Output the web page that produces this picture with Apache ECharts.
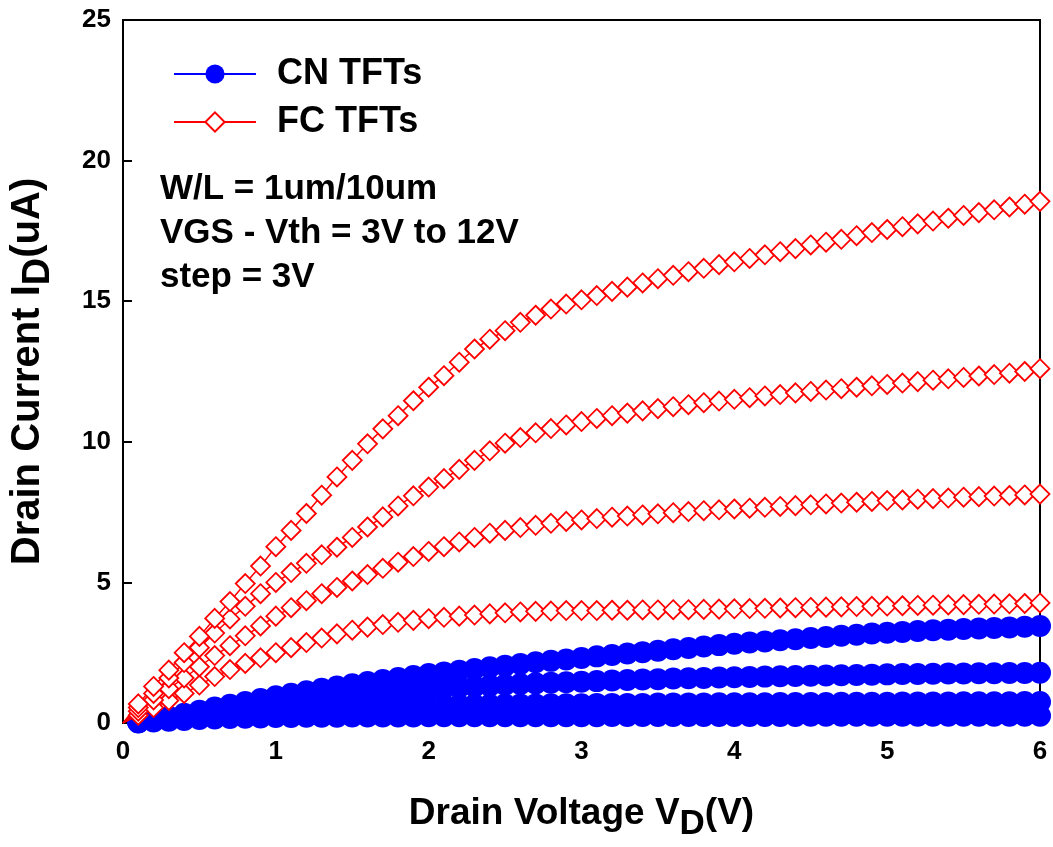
<!DOCTYPE html>
<html>
<head>
<meta charset="utf-8">
<script src="https://cdn.jsdelivr.net/npm/echarts@6/dist/echarts.min.js"></script>
<style>
html,body{margin:0;padding:0;background:#fff;}
#chart{width:1053px;height:847px;}
</style>
</head>
<body>
<div id="chart"></div>
<script>
// Drain voltage (V), 0 to 6 step 0.1
const vd = [0,0.1,0.2,0.3,0.4,0.5,0.6,0.7,0.8,0.9,1.0,1.1,1.2,1.3,1.4,1.5,1.6,1.7,1.8,1.9,2.0,2.1,2.2,2.3,2.4,2.5,2.6,2.7,2.8,2.9,3.0,3.1,3.2,3.3,3.4,3.5,3.6,3.7,3.8,3.9,4.0,4.1,4.2,4.3,4.4,4.5,4.6,4.7,4.8,4.9,5.0,5.1,5.2,5.3,5.4,5.5,5.6,5.7,5.8,5.9,6.0];

// FC TFTs (uA), starting at VD = 0
const fc12 = [0,0.68,1.3,1.88,2.5,3.08,3.72,4.32,4.96,5.58,6.27,6.85,7.45,8.1,8.75,9.34,9.93,10.46,10.93,11.46,11.94,12.35,12.83,13.3,13.65,13.95,14.25,14.5,14.72,14.9,15.05,15.2,15.35,15.5,15.65,15.8,15.92,16.05,16.17,16.3,16.4,16.52,16.65,16.76,16.87,17.0,17.1,17.2,17.33,17.44,17.55,17.65,17.75,17.85,17.95,18.05,18.15,18.25,18.35,18.45,18.55];
const fc9 = [0,0.55,1.05,1.6,2.15,2.68,3.2,3.7,4.15,4.6,5.0,5.35,5.68,5.98,6.25,6.6,6.97,7.33,7.72,8.08,8.39,8.69,9.02,9.34,9.68,9.95,10.15,10.32,10.47,10.6,10.72,10.83,10.93,11.02,11.1,11.18,11.25,11.32,11.39,11.45,11.51,11.57,11.63,11.68,11.74,11.79,11.84,11.89,11.94,11.99,12.04,12.09,12.14,12.19,12.24,12.29,12.34,12.39,12.44,12.5,12.6];
const fc6 = [0,0.42,0.82,1.22,1.6,2.0,2.4,2.75,3.1,3.45,3.8,4.1,4.35,4.6,4.82,5.05,5.28,5.5,5.72,5.92,6.1,6.27,6.44,6.6,6.75,6.85,6.95,7.03,7.1,7.17,7.22,7.27,7.32,7.36,7.4,7.44,7.48,7.52,7.55,7.58,7.61,7.64,7.67,7.7,7.73,7.76,7.79,7.82,7.85,7.88,7.91,7.93,7.96,7.98,8.0,8.03,8.05,8.07,8.09,8.11,8.14];
const fc3 = [0,0.28,0.55,0.8,1.05,1.35,1.65,1.9,2.12,2.32,2.5,2.68,2.86,3.02,3.17,3.3,3.41,3.5,3.58,3.65,3.71,3.76,3.8,3.84,3.88,3.92,3.95,3.97,3.98,4.0,4.0,4.0,4.01,4.01,4.02,4.02,4.03,4.03,4.04,4.05,4.06,4.07,4.08,4.09,4.1,4.11,4.12,4.13,4.14,4.15,4.16,4.17,4.18,4.19,4.2,4.21,4.22,4.23,4.24,4.25,4.27];

// CN TFTs (uA), starting at VD = 0.1
const cn12 = [0.04,0.12,0.22,0.33,0.44,0.55,0.65,0.75,0.85,0.95,1.04,1.13,1.22,1.3,1.38,1.46,1.53,1.6,1.67,1.74,1.8,1.86,1.92,1.98,2.04,2.1,2.16,2.21,2.26,2.31,2.37,2.42,2.47,2.52,2.57,2.62,2.67,2.72,2.77,2.82,2.86,2.9,2.94,2.98,3.02,3.06,3.1,3.14,3.18,3.21,3.24,3.27,3.3,3.32,3.34,3.36,3.38,3.4,3.42,3.45];
const cn9 = [0.04,0.1,0.18,0.26,0.34,0.42,0.5,0.57,0.64,0.7,0.76,0.82,0.88,0.93,0.98,1.03,1.07,1.11,1.15,1.19,1.23,1.27,1.3,1.33,1.36,1.39,1.41,1.43,1.45,1.47,1.49,1.51,1.53,1.55,1.56,1.58,1.59,1.6,1.62,1.63,1.64,1.65,1.66,1.67,1.68,1.69,1.7,1.71,1.72,1.73,1.74,1.74,1.75,1.76,1.76,1.77,1.77,1.78,1.78,1.79];
const cn6 = [0.03,0.08,0.14,0.2,0.26,0.31,0.36,0.41,0.45,0.48,0.51,0.54,0.56,0.58,0.59,0.6,0.61,0.62,0.63,0.64,0.64,0.65,0.65,0.65,0.66,0.66,0.66,0.67,0.67,0.67,0.68,0.68,0.68,0.68,0.69,0.69,0.69,0.69,0.7,0.7,0.7,0.7,0.71,0.71,0.71,0.71,0.72,0.72,0.72,0.72,0.73,0.73,0.73,0.73,0.74,0.74,0.74,0.74,0.75,0.75];
const cn3 = [0.02,0.05,0.08,0.11,0.14,0.16,0.18,0.19,0.2,0.21,0.21,0.22,0.22,0.22,0.23,0.23,0.23,0.23,0.23,0.24,0.24,0.24,0.24,0.24,0.24,0.24,0.24,0.24,0.24,0.24,0.24,0.25,0.25,0.25,0.25,0.25,0.25,0.25,0.25,0.25,0.25,0.25,0.25,0.25,0.26,0.26,0.26,0.26,0.26,0.26,0.26,0.26,0.26,0.26,0.26,0.26,0.26,0.26,0.26,0.26];

const legendNames = ['CN TFTs', 'FC TFTs'];
const noteLines = ['W/L = 1um/10um', 'VGS - Vth = 3V to 12V', 'step = 3V'];
const xTicks = [0, 1, 2, 3, 4, 5, 6];
const yTicks = [0, 5, 10, 15, 20, 25];

const FONT = '"Liberation Sans", Arial, Helvetica, sans-serif';
const BLUE = '#0000ff';
const RED = '#ff0000';

function fcData(arr) {
  return arr.map((v, i) => i === 0 ? { value: [vd[i], v], symbol: 'none' } : [vd[i], v]);
}
function cnData(arr) {
  return arr.map((v, i) => [vd[i + 1], v]);
}
function cnSeries(arr) {
  return {
    name: legendNames[0], type: 'line', data: cnData(arr),
    symbol: 'circle', symbolSize: 22, z: 2,
    itemStyle: { color: BLUE },
    lineStyle: { color: BLUE, width: 1.5 },
    emphasis: { disabled: true }, animation: false
  };
}
function fcSeries(arr) {
  return {
    name: legendNames[1], type: 'line', data: fcData(arr),
    symbol: 'diamond', symbolSize: 19, z: 3,
    itemStyle: { color: '#ffffff', borderColor: RED, borderWidth: 1.8 },
    lineStyle: { color: RED, width: 1.5 },
    emphasis: { disabled: true }, animation: false
  };
}

function titleStyle(size) {
  return {
    fontFamily: FONT, fontWeight: 'bold', fontSize: size, color: '#000',
    rich: {
      sub: { fontFamily: FONT, fontWeight: 'bold', fontSize: size - 2, color: '#000', padding: [22, 0, 0, 0] }
    }
  };
}

const chart = echarts.init(document.getElementById('chart'), null, { renderer: 'canvas' });
chart.setOption({
  backgroundColor: '#ffffff',
  animation: false,
  grid: { left: 123, right: 13, top: 20, bottom: 120, show: true, borderColor: '#000', borderWidth: 2, backgroundColor: 'transparent' },
  legend: {
    data: legendNames, orient: 'vertical', left: 168, top: 51,
    itemWidth: 82, itemHeight: 24, itemGap: 12,
    textStyle: { fontFamily: FONT, fontWeight: 'bold', fontSize: 36, color: '#000', lineHeight: 36, padding: [0, 0, 0, 16] }
  },
  xAxis: {
    type: 'value', min: xTicks[0], max: xTicks[xTicks.length - 1], interval: 1,
    axisLine: { show: true, lineStyle: { color: '#000', width: 2 } },
    axisTick: { show: true, inside: true, length: 9, lineStyle: { color: '#000', width: 2 } },
    axisLabel: { fontFamily: FONT, fontWeight: 'bold', fontSize: 26, color: '#000', margin: 16 },
    splitLine: { show: false },
    name: 'Drain Voltage V{sub|D}(V)', nameLocation: 'middle', nameGap: 62,
    nameTextStyle: titleStyle(37)
  },
  yAxis: {
    type: 'value', min: yTicks[0], max: yTicks[yTicks.length - 1], interval: 5,
    axisLine: { show: true, lineStyle: { color: '#000', width: 2 } },
    axisTick: { show: true, inside: true, length: 9, lineStyle: { color: '#000', width: 2 } },
    axisLabel: { fontFamily: FONT, fontWeight: 'bold', fontSize: 26, color: '#000', margin: 12 },
    splitLine: { show: false },
    name: 'Drain Current I{sub|D}(uA)', nameLocation: 'middle', nameGap: 65, nameRotate: 90,
    nameTextStyle: titleStyle(40)
  },
  graphic: noteLines.map((t, i) => ({
    type: 'text', left: 160, top: 172 + i * 44, z: 10,
    style: { text: t, font: 'bold 35px ' + FONT, fill: '#000' }
  })),
  series: [
    cnSeries(cn3), cnSeries(cn6), cnSeries(cn9), cnSeries(cn12),
    fcSeries(fc3), fcSeries(fc6), fcSeries(fc9), fcSeries(fc12)
  ]
});
</script>
</body>
</html>
